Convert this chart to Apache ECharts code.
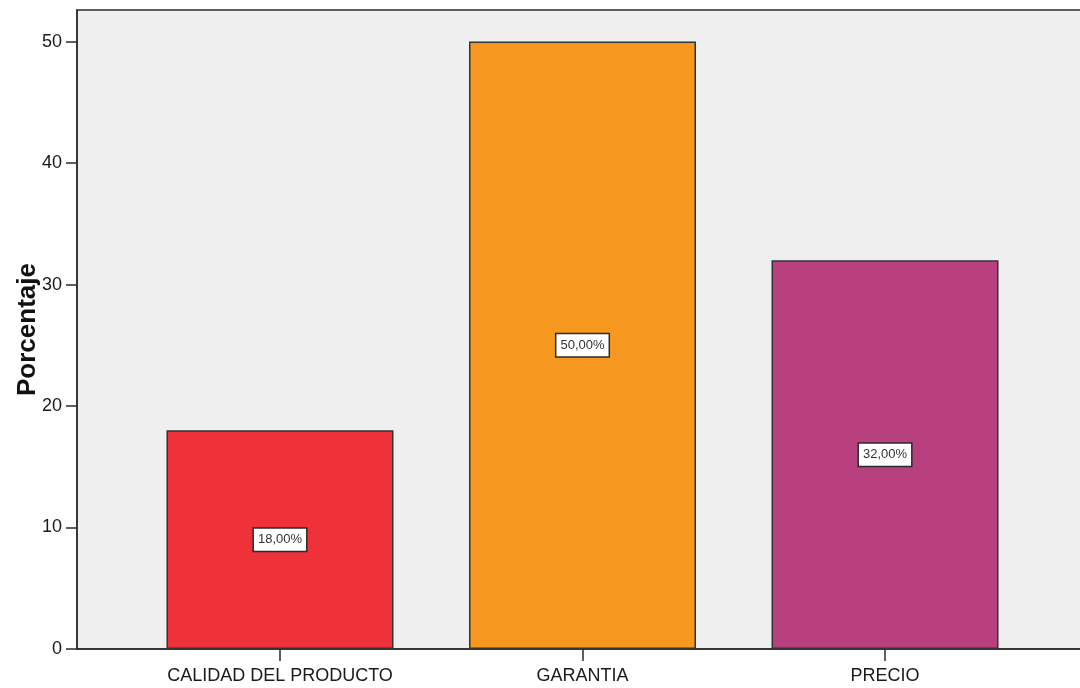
<!DOCTYPE html>
<html>
<head>
<meta charset="utf-8">
<script src="https://cdn.jsdelivr.net/npm/echarts@6/dist/echarts.min.js"></script>
<style>
  html, body { margin: 0; padding: 0; background: #ffffff; }
  #chart { width: 1080px; height: 688px; }
</style>
</head>
<body>
<div id="chart"></div>
<script>
// Motivos de compra (porcentaje de respuestas)
const categories = ['CALIDAD DEL PRODUCTO', 'GARANTIA', 'PRECIO'];
const percentages = [18, 50, 32];
const barColors = ['#EF323A', '#F6981F', '#B9407E'];
const yTicks = [0, 10, 20, 30, 40, 50];

const FONT = '"Liberation Sans", Arial, sans-serif';

const chart = echarts.init(document.getElementById('chart'), null, { renderer: 'canvas' });

const positions = categories.map((_, i) => i);

chart.setOption({
  animation: false,
  backgroundColor: '#ffffff',
  grid: {
    left: 77,
    top: 10,
    width: 1011,
    height: 639,
    containLabel: false,
    outerBoundsMode: 'none',
    show: true,
    backgroundColor: '#EFEFEF',
    borderColor: '#2b2b2b',
    borderWidth: 1.5
  },
  xAxis: {
    type: 'value',
    min: -0.671,
    max: 2.671,
    splitLine: { show: false },
    axisLine: { show: true, onZero: false, lineStyle: { color: '#2b2b2b', width: 1.5 } },
    axisTick: { show: true, length: 12, customValues: positions, lineStyle: { color: '#2b2b2b', width: 1.5 } },
    axisLabel: {
      customValues: positions,
      formatter: v => categories[Math.round(v)] || '',
      margin: 18,
      fontFamily: FONT,
      fontSize: 18,
      color: '#1a1a1a'
    }
  },
  yAxis: {
    type: 'value',
    min: 0,
    max: 52.6,
    name: 'Porcentaje',
    nameLocation: 'middle',
    nameGap: 36,
    nameMoveOverlap: false,
    nameTextStyle: { fontFamily: FONT, fontSize: 26, fontWeight: 'bold', color: '#111' },
    splitLine: { show: false },
    axisLine: { show: true, onZero: false, lineStyle: { color: '#2b2b2b', width: 1.5 } },
    axisTick: { show: true, length: 11, customValues: yTicks, lineStyle: { color: '#2b2b2b', width: 1.5 } },
    axisLabel: {
      customValues: yTicks,
      margin: 15,
      fontFamily: FONT,
      fontSize: 18,
      color: '#1a1a1a'
    }
  },
  series: [{
    type: 'bar',
    barWidth: 227,
    data: percentages.map((v, i) => ({
      value: [i, v],
      itemStyle: { color: barColors[i] }
    })),
    itemStyle: { borderColor: '#333', borderWidth: 1.5 },
    label: {
      show: true,
      position: 'inside',
      formatter: p => p.value[1].toFixed(2).replace('.', ',') + '%',
      fontFamily: FONT,
      fontSize: 13,
      color: '#333',
      backgroundColor: '#ffffff',
      borderColor: '#2a2a2a',
      borderWidth: 1.5,
      padding: [5, 4, 4, 4]
    }
  }]
});
</script>
</body>
</html>
